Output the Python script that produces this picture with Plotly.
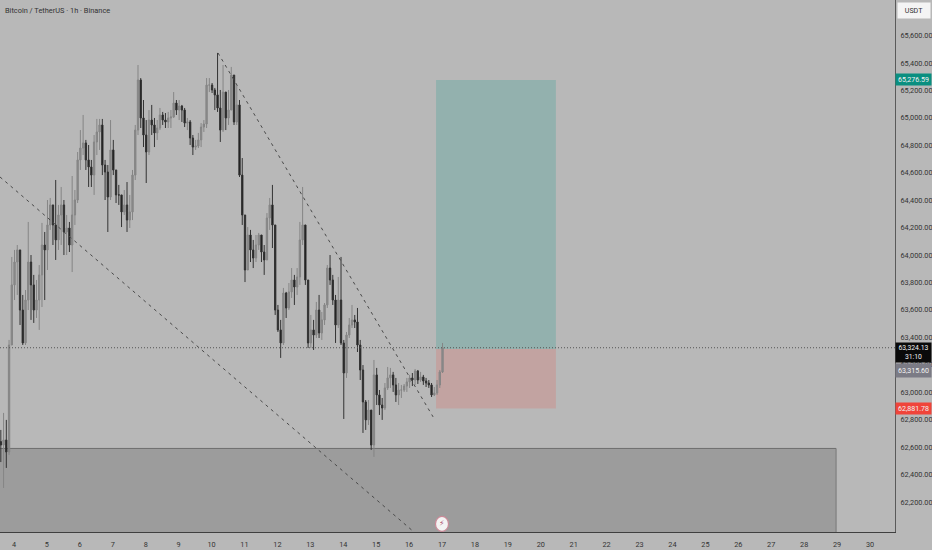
import plotly.graph_objects as go

closes = [62615,62652,62564,63344,63782,63949,64037,63599,63359,63672,63949,63782,63599,63672,63855,64073,64037,64219,64365,64219,
64110,64292,64365,64168,64197,64073,64292,64401,64693,64780,64817,64693,64642,64583,64824,64897,64948,64656,64605,64423,
64766,64620,64438,64438,64314,64365,64255,64314,64583,64911,65276,64999,64875,64751,64984,64948,64890,64926,65021,64984,
64970,64999,65006,65108,65057,65086,65057,64962,64970,64853,64787,64795,64839,64933,64955,65239,65239,65203,65167,65072,
64911,65188,64999,65057,65312,64970,65094,64583,64292,63891,64146,64037,63978,64073,64146,64022,63964,64270,64365,64219,
63599,63454,63359,63723,63614,63731,63818,63767,63840,64110,64219,63818,63359,63454,63417,63599,63432,63527,63636,63905,
63818,63672,63490,63672,63359,63140,63417,63490,63527,63512,63344,63162,62929,62798,62870,62615,63126,62980,62907,62885,
63031,63104,63126,63053,62980,63016,63016,63045,63075,63104,63089,63155,63089,63111,63082,63067,63053,62980,62994,63053,
63148,63324]
highs = [62725,62849,62798,63381,63986,64037,64073,64000,63709,63745,64241,64000,63855,63818,63927,64234,64168,64401,64416,64328,
64547,64365,64496,64401,64292,64241,64576,64474,64751,64911,65021,64839,64802,64693,64875,64992,64992,64992,64693,64656,
64984,64839,64620,64511,64438,64474,64532,64438,64620,64948,65385,65290,65130,64984,65057,65094,64999,64984,65072,65043,
65035,65043,65057,65188,65130,65130,65094,65072,64999,64984,64875,64839,64890,64962,64984,65290,65290,65254,65218,65473,
65203,65385,65188,65203,65371,65312,65239,65130,64707,64292,64204,64183,64110,64146,64161,64146,64073,64306,64416,64511,
64219,63636,63527,63760,63731,63796,63905,63855,63905,64241,64496,64219,63818,63563,63527,63658,63709,63585,63650,63927,
64000,63855,63709,63840,63986,63381,63439,63541,63636,63563,63614,63381,63198,62943,62943,62870,63235,63177,63016,62958,
63067,63184,63177,63148,63104,63067,63053,63060,63104,63126,63140,63169,63162,63148,63126,63104,63089,63067,63038,63089,
63162,63359]
lows = [62491,62302,62448,62543,63344,63672,63709,63490,63344,63344,63599,63527,63505,63541,63454,63621,63672,63891,64183,64073,
63964,64037,64073,64000,64000,64022,63876,64219,64379,64620,64729,64620,64496,64496,64438,64729,64766,64583,64401,64168,
64401,64583,64379,64365,64204,64292,64168,64197,64255,64547,64875,64926,64787,64525,64729,64875,64787,64839,64911,64948,
64926,64926,64926,64999,65021,64984,64970,64933,64911,64802,64729,64766,64780,64787,64897,64926,65188,65181,65057,65043,
64824,64897,64911,64948,65130,64948,64948,64569,64219,63803,63891,63949,63905,63949,64037,63949,63855,63964,64183,64051,
63563,63439,63250,63344,63541,63599,63687,63636,63709,63782,64073,63782,63322,63322,63308,63395,63395,63381,63490,63614,
63782,63636,63359,63468,63344,62805,63104,63395,63468,63468,63293,63089,62703,62725,62761,62579,62528,62907,62834,62798,
62870,63016,63031,63002,62929,62907,62958,63002,63002,63031,63045,63053,63060,63075,63053,63038,63031,62965,62972,62980,
63031,63140]
first_open = 62640
opens = [first_open] + closes[:-1]
start_day = 3.6
bars_per_day = 12
days = [start_day + i / bars_per_day for i in range(len(closes))]

day_ticks = list(range(4, 31))
price_ticks = list(range(62200, 65601, 200))

target = 65276.59
entry = 63315.60
stop = 62881.78
last = 63324.13
zone_top = 62590
left_day = 3.575
right_day = 30.76
y_low = 61981
y_high = 65859

fig = go.Figure(go.Candlestick(
    x=days, open=opens, high=highs, low=lows, close=closes,
    increasing=dict(line=dict(color="#858585", width=1), fillcolor="#8a8a8a"),
    decreasing=dict(line=dict(color="#333333", width=1), fillcolor="#141414"),
    whiskerwidth=0, showlegend=False, hoverinfo="skip"))

shapes = [
    dict(type="rect", layer="below", x0=left_day, x1=28.97, y0=y_low, y1=zone_top,
         fillcolor="#9c9c9c", line=dict(width=0)),
    dict(type="line", layer="below", x0=left_day, x1=28.97, y0=zone_top, y1=zone_top, line=dict(color="#6e6e6e", width=1)),
    dict(type="line", layer="below", x0=28.97, x1=28.97, y0=y_low, y1=zone_top, line=dict(color="#777777", width=1)),
    dict(type="rect", layer="below", x0=16.82, x1=20.46, y0=entry, y1=target, fillcolor="#93b1ae", line=dict(width=0)),
    dict(type="rect", layer="below", x0=16.82, x1=20.46, y0=stop, y1=entry, fillcolor="#c2a3a1", line=dict(width=0)),
    dict(type="line", x0=10.197, x1=16.73, y0=65473, y1=62820, line=dict(color="#4a4a4a", width=1, dash="3px,4px")),
    dict(type="line", x0=left_day, x1=16.15, y0=64569, y1=y_low, line=dict(color="#4a4a4a", width=1, dash="3px,4px")),
    dict(type="line", x0=left_day, x1=right_day, y0=last, y1=last, line=dict(color="#555555", width=1, dash="1px,2px")),
    dict(type="circle", xref="x", yref="y", xsizemode="pixel", ysizemode="pixel", xanchor=17, yanchor=62040,
         x0=-6.5, x1=6.5, y0=-7.5, y1=7.5, fillcolor="#f3f3f3", line=dict(color="#c98a98", width=1.2)),
]

def tag(price, text, bg, color="#f2f2f2", h=11, size=7.1):
    return dict(xref="paper", yref="y", x=1, y=price, xanchor="left", yanchor="middle", text=text,
                showarrow=False, bgcolor=bg, width=35, height=h, borderpad=0, align="center",
                font=dict(family="Roboto, sans-serif", size=size, color=color))

annotations = [
    dict(xref="paper", yref="paper", x=0.0035, y=0.98, xanchor="left", yanchor="middle",
         text="Bitcoin / TetherUS · 1h · Binance", showarrow=False,
         font=dict(family="Roboto, sans-serif", size=7.4, color="#333333")),
    tag(target, "65,276.59", "#0a8f80"),
    tag(63292, "63,324.13<br>31:10", "#0a0a0a", h=19, size=6.8),
    tag(63160, "63,315.60", "#7b7b85", h=13),
    tag(stop, "62,881.78", "#f0443a"),
    dict(xref="paper", yref="y", x=1, y=65780, xanchor="left", xshift=2, yanchor="middle", text="USDT",
         showarrow=False, bgcolor="#f4f4f4", width=32, height=15, borderpad=0,
         font=dict(family="Roboto, sans-serif", size=7.1, color="#333333")),
    dict(xref="x", yref="y", x=17, y=62040, text="⚡", showarrow=False,
         font=dict(family="DejaVu Sans, sans-serif", size=8, color="#b0506a")),
]

fig.update_layout(
    width=932, height=550, margin=dict(l=0, r=37, t=0, b=18),
    paper_bgcolor="#b8b8b8", plot_bgcolor="#b8b8b8",
    shapes=shapes, annotations=annotations, showlegend=False,
    xaxis=dict(range=[left_day, right_day], rangeslider=dict(visible=False), tickmode="array",
               tickvals=day_ticks, ticktext=[str(d) for d in day_ticks], showgrid=False, zeroline=False,
               showline=True, linecolor="#3f3f3f", linewidth=1, ticks="outside", ticklen=5, tickcolor="rgba(0,0,0,0)",
               tickfont=dict(family="Roboto, sans-serif", size=7.3, color="#333333")),
    yaxis=dict(range=[y_low, y_high], side="right", tickmode="array", tickvals=price_ticks,
               ticktext=[f"{p:,.2f}" for p in price_ticks], showgrid=False, zeroline=False,
               showline=True, linecolor="#5a5a5a", linewidth=1, ticks="outside", ticklen=3, tickcolor="rgba(0,0,0,0)",
               tickfont=dict(family="Roboto, sans-serif", size=7.3, color="#333333")),
)

fig.write_html("out.html", config=dict(displayModeBar=False),
               post_script="document.body.style.margin='0';document.body.style.background='#b8b8b8';")
